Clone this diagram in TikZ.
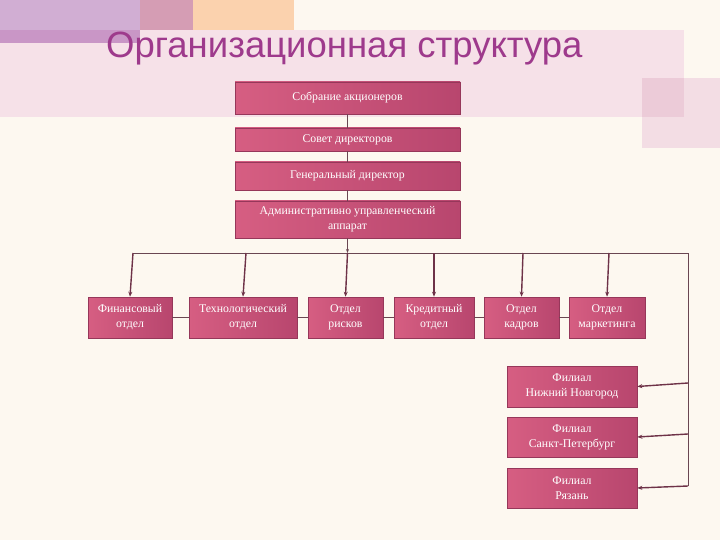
\documentclass[tikz,border=0pt]{standalone}
\usepackage{fontspec}
\setmainfont{Liberation Serif}
\newfontfamily\titlefont{Liberation Sans}
\usetikzlibrary{arrows.meta}
\definecolor{bgc}{RGB}{253,248,240}
\definecolor{lav}{RGB}{209,174,211}
\definecolor{lavd}{RGB}{201,150,198}
\definecolor{mauve}{RGB}{213,157,180}
\definecolor{peach}{RGB}{251,210,174}
\definecolor{band}{RGB}{246,225,232}
\definecolor{sqc}{RGB}{243,221,228}
\definecolor{sqd}{RGB}{236,203,216}
\definecolor{titlec}{RGB}{158,58,140}
\definecolor{boxl}{RGB}{214,94,130}
\definecolor{boxr}{RGB}{184,70,110}
\definecolor{boxb}{RGB}{150,55,90}
\definecolor{linec}{RGB}{106,70,82}
\definecolor{arrc}{RGB}{110,50,72}
\tikzset{
  orgbox/.style={draw=boxb, line width=0.6pt, left color=boxl, right color=boxr,
    text=white, font=\fontsize{11.8}{15}\selectfont, align=center, inner sep=1pt},
  busline/.style={draw=linec, line width=0.9pt},
  arrline/.style={draw=arrc, line width=1.4pt, -{Stealth[length=5pt,width=4pt]}},
  thinline/.style={draw=linec, line width=0.8pt}
}
\begin{document}
\begin{tikzpicture}[x=1pt,y=-1pt]
\useasboundingbox (0,0) rectangle (720,540);
\fill[bgc] (0,0) rectangle (720,540);
% decorative background
\fill[band] (0,30) rectangle (684,117);
\fill[sqc] (642,78) rectangle (720,148);
\fill[sqd] (642,78) rectangle (684,117);
\fill[lav] (0,0) rectangle (140,30);
\fill[lavd] (0,30) rectangle (140,43);
\fill[mauve] (140,0) rectangle (193,30);
\fill[peach] (193,0) rectangle (294,30);
% title
\node[anchor=base west, text=titlec, font=\titlefont\fontsize{36.5}{40}\selectfont, inner sep=0pt]
  (title) at (106,58) {Организационная структура};
% top boxes
\node[orgbox, minimum width=225pt, minimum height=32pt] (sob) at (347.5,98) {Собрание акционеров};
\node[orgbox, minimum width=225pt, minimum height=23pt] (sov) at (347.5,139.5) {Совет директоров};
\node[orgbox, minimum width=225pt, minimum height=28pt] (gen) at (347.5,176) {Генеральный директор};
\node[orgbox, minimum width=225pt, minimum height=37pt] (adm) at (347.5,219.5) {Административно управленческий\\аппарат};
% bottom row
\node[orgbox, minimum width=84pt, minimum height=41pt] (fin) at (130,317.5) {Финансовый\\отдел};
\node[orgbox, minimum width=108pt, minimum height=41pt] (tech) at (243,317.5) {Технологический\\отдел};
\node[orgbox, minimum width=75pt, minimum height=41pt] (risk) at (345.5,317.5) {Отдел\\рисков};
\node[orgbox, minimum width=80pt, minimum height=41pt] (cred) at (434,317.5) {Кредитный\\отдел};
\node[orgbox, minimum width=75pt, minimum height=41pt] (kadr) at (521.5,317.5) {Отдел\\кадров};
\node[orgbox, minimum width=76pt, minimum height=41pt] (mark) at (607,317.5) {Отдел\\маркетинга};
% branches
\node[orgbox, minimum width=130pt, minimum height=41pt] (nn) at (572,386.5) {Филиал\\Нижний Новгород};
\node[orgbox, minimum width=130pt, minimum height=40pt] (spb) at (572,437) {Филиал\\Санкт-Петербург};
\node[orgbox, minimum width=130pt, minimum height=40pt] (rz) at (572,488) {Филиал\\Рязань};
% bus coordinates
\coordinate (b0) at (133,253);
\coordinate (b1) at (246,253);
\coordinate (b2) at (347.5,253);
\coordinate (b3) at (434,253);
\coordinate (b4) at (523,253);
\coordinate (b5) at (609,253);
\coordinate (bR) at (688,253);
\coordinate (r1) at (688,383);
\coordinate (r2) at (688,434);
\coordinate (r3) at (688,486);
% connectors top
\draw[thinline] (sob.south) -- (sov.north);
\draw[thinline] (sov.south) -- (gen.north);
\draw[thinline] (gen.south) -- (adm.north);
\draw[thinline, -{Stealth[length=4pt,width=3pt]}] (adm.south) -- (b2);
% bus
\draw[busline] (b0) -- (bR) -- (r3);
% arrows down
\draw[arrline] (b0) -- (fin.north);
\draw[arrline] (b1) -- (tech.north);
\draw[arrline] (b2) -- (risk.north);
\draw[arrline] (b3) -- (cred.north);
\draw[arrline] (b4) -- (kadr.north);
\draw[arrline] (b5) -- (mark.north);
% arrows to branches
\draw[arrline] (r1) -- (nn.east);
\draw[arrline] (r2) -- (spb.east);
\draw[arrline] (r3) -- (rz.east);
% links between bottom boxes
\draw[thinline] (fin.east) -- (tech.west);
\draw[thinline] (tech.east) -- (risk.west);
\draw[thinline] (risk.east) -- (cred.west);
\draw[thinline] (cred.east) -- (kadr.west);
\draw[thinline] (kadr.east) -- (mark.west);
\end{tikzpicture}
\end{document}
